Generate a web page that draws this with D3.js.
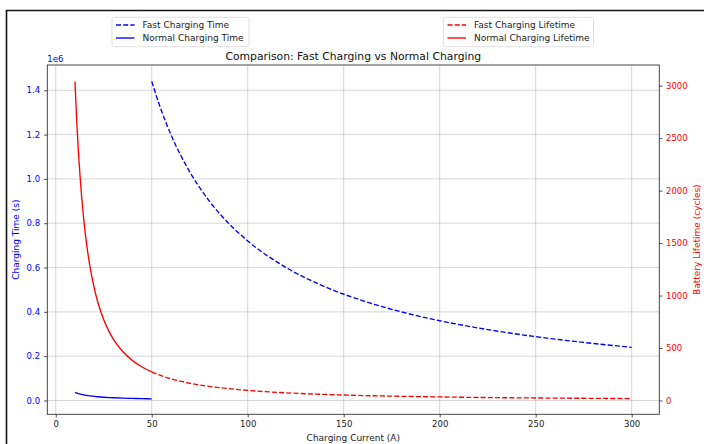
<!DOCTYPE html>
<html>
<head>
<meta charset="utf-8">
<script src="https://cdn.jsdelivr.net/npm/d3@7"></script>
<style>
  body { margin: 0; background: #fff; }
  svg { display: block; font-family: "DejaVu Sans", sans-serif; }
</style>
</head>
<body>
<svg width="704" height="444"></svg>
<script>
// charging current (A)
const currentNormal = [10, 11, 12, 13, 14, 15, 16, 18, 20, 22, 25, 28, 30, 35, 40, 45, 50];
const currentFast = [50, 55, 60, 70, 80, 90, 100, 120, 140, 160, 180, 200, 225, 250, 275, 300];

// charging time (s)
const timeNormal = [37000, 33600, 30800, 28500, 26400, 24700, 23100, 20600, 18500, 16800, 14800, 13200, 12300, 10600, 9250, 8200, 7400];
const timeFast = [1440000, 1309000, 1200000, 1029000, 900000, 800000, 720000, 600000, 514000, 450000, 400000, 360000, 320000, 288000, 262000, 240000];

// battery lifetime (cycles)
const lifeNormal = [3040, 2635, 2313, 2051, 1835, 1655, 1502, 1259, 1075, 932, 769, 649, 585, 464, 380, 319, 272];
const lifeFast = [272, 236, 207, 164, 134, 113, 96, 73, 58, 47, 40, 34, 28, 24, 21, 18];

const xTicks = [0, 50, 100, 150, 200, 250, 300];
const timeTicks = [0, 200000, 400000, 600000, 800000, 1000000, 1200000, 1400000];
const lifeTicks = [0, 500, 1000, 1500, 2000, 2500, 3000];

const plotLeft = 47.3, plotRight = 659.3, plotTop = 65, plotBottom = 414.3;
const svg = d3.select("svg");

// outer frame (only top and left edges visible)
svg.append("path")
    .attr("d", "M6.5,444 L6.5,10.5 L704,10.5")
    .attr("fill", "none")
    .attr("stroke", "#111")
    .attr("stroke-width", 1.6);

let x = d3.scaleLinear().domain([-4.4, 314.4]).range([plotLeft, plotRight]);
let yTime = d3.scaleLinear().domain([-62300, 1514000]).range([plotBottom, plotTop]);
let yLife = d3.scaleLinear().domain([-131.5, 3197]).range([plotBottom, plotTop]);

// grid
let grid = svg.append("g").attr("stroke", "#b0b0b0").attr("stroke-opacity", 0.65).attr("stroke-width", 0.8);
xTicks.forEach(t => {
  grid.append("line").attr("x1", x(t)).attr("x2", x(t)).attr("y1", plotTop).attr("y2", plotBottom);
});
timeTicks.forEach(t => {
  grid.append("line").attr("x1", plotLeft).attr("x2", plotRight).attr("y1", yTime(t)).attr("y2", yTime(t));
});

// axes
let xAxis = svg.append("g")
    .attr("transform", "translate(0," + plotBottom + ")")
    .call(d3.axisBottom(x).tickValues(xTicks).tickSize(3.2).tickPadding(3).tickSizeOuter(0));
xAxis.selectAll("text").attr("fill", "#222");

let yAxisL = svg.append("g")
    .attr("transform", "translate(" + plotLeft + ",0)")
    .call(d3.axisLeft(yTime).tickValues(timeTicks).tickSize(3.2).tickPadding(4).tickSizeOuter(0)
      .tickFormat(d => (d / 1e6).toFixed(1)));
yAxisL.selectAll("text").attr("fill", "blue");

let yAxisR = svg.append("g")
    .attr("transform", "translate(" + plotRight + ",0)")
    .call(d3.axisRight(yLife).tickValues(lifeTicks).tickSize(3.2).tickPadding(3.5).tickSizeOuter(0)
      .tickFormat(d3.format("d")));
yAxisR.selectAll("text").attr("fill", "red");

svg.selectAll(".tick text").attr("font-size", 8.5).attr("font-family", "DejaVu Sans");
svg.selectAll(".tick line").attr("stroke", "#222").attr("stroke-width", 0.8);
svg.selectAll(".domain").remove();

// spines
svg.append("rect")
    .attr("x", plotLeft).attr("y", plotTop)
    .attr("width", plotRight - plotLeft).attr("height", plotBottom - plotTop)
    .attr("fill", "none").attr("stroke", "#333").attr("stroke-width", 0.9);

// lines
let plot = svg.append("g");
function drawLine(xs, ys, yScale, color, dashed) {
  let line = d3.line()
      .x((d, i) => x(xs[i]))
      .y(d => yScale(d))
      .curve(d3.curveMonotoneX);
  plot.append("path")
      .attr("d", line(ys))
      .attr("fill", "none")
      .attr("stroke", color)
      .attr("stroke-width", 1.35)
      .attr("stroke-dasharray", dashed ? "5,2.2" : null);
}
drawLine(currentFast, timeFast, yTime, "blue", true);
drawLine(currentNormal, timeNormal, yTime, "blue", false);
drawLine(currentFast, lifeFast, yLife, "red", true);
drawLine(currentNormal, lifeNormal, yLife, "red", false);

// offset text, title and labels
svg.append("text").attr("x", plotLeft).attr("y", 62).attr("font-size", 8.5).attr("fill", "blue").text("1e6");

svg.append("text")
    .attr("x", (plotLeft + plotRight) / 2).attr("y", 59.5)
    .attr("text-anchor", "middle").attr("font-size", 10.8).attr("fill", "#111")
    .text("Comparison: Fast Charging vs Normal Charging");

svg.append("text")
    .attr("x", (plotLeft + plotRight) / 2).attr("y", 441)
    .attr("text-anchor", "middle").attr("font-size", 9).attr("fill", "#222")
    .text("Charging Current (A)");

svg.append("text")
    .attr("transform", "translate(19," + (plotTop + plotBottom) / 2 + ") rotate(-90)")
    .attr("text-anchor", "middle").attr("font-size", 9).attr("fill", "blue")
    .text("Charging Time (s)");

svg.append("text")
    .attr("transform", "translate(700," + (plotTop + plotBottom) / 2 + ") rotate(-90)")
    .attr("text-anchor", "middle").attr("font-size", 9).attr("fill", "red")
    .text("Battery Lifetime (cycles)");

// legends
function legend(x0, width, items) {
  let g = svg.append("g");
  g.append("rect")
      .attr("x", x0).attr("y", 17.3).attr("width", width).attr("height", 29.4)
      .attr("rx", 2).attr("fill", "#fff").attr("fill-opacity", 0.8)
      .attr("stroke", "#d8d8d8").attr("stroke-width", 0.8);
  items.forEach((it, i) => {
    let yy = 25 + i * 13;
    g.append("line")
        .attr("x1", x0 + 4).attr("x2", x0 + 22.5).attr("y1", yy).attr("y2", yy)
        .attr("stroke", it.color).attr("stroke-width", 1.35)
        .attr("stroke-dasharray", it.dashed ? "5,2.2" : null);
    g.append("text")
        .attr("x", x0 + 30.5).attr("y", yy + 3.2)
        .attr("font-size", 9).attr("fill", "#222")
        .text(it.label);
  });
}
legend(112, 137, [
  { label: "Fast Charging Time", color: "blue", dashed: true },
  { label: "Normal Charging Time", color: "blue", dashed: false }
]);
legend(443.5, 150, [
  { label: "Fast Charging Lifetime", color: "red", dashed: true },
  { label: "Normal Charging Lifetime", color: "red", dashed: false }
]);
</script>
</body>
</html>
